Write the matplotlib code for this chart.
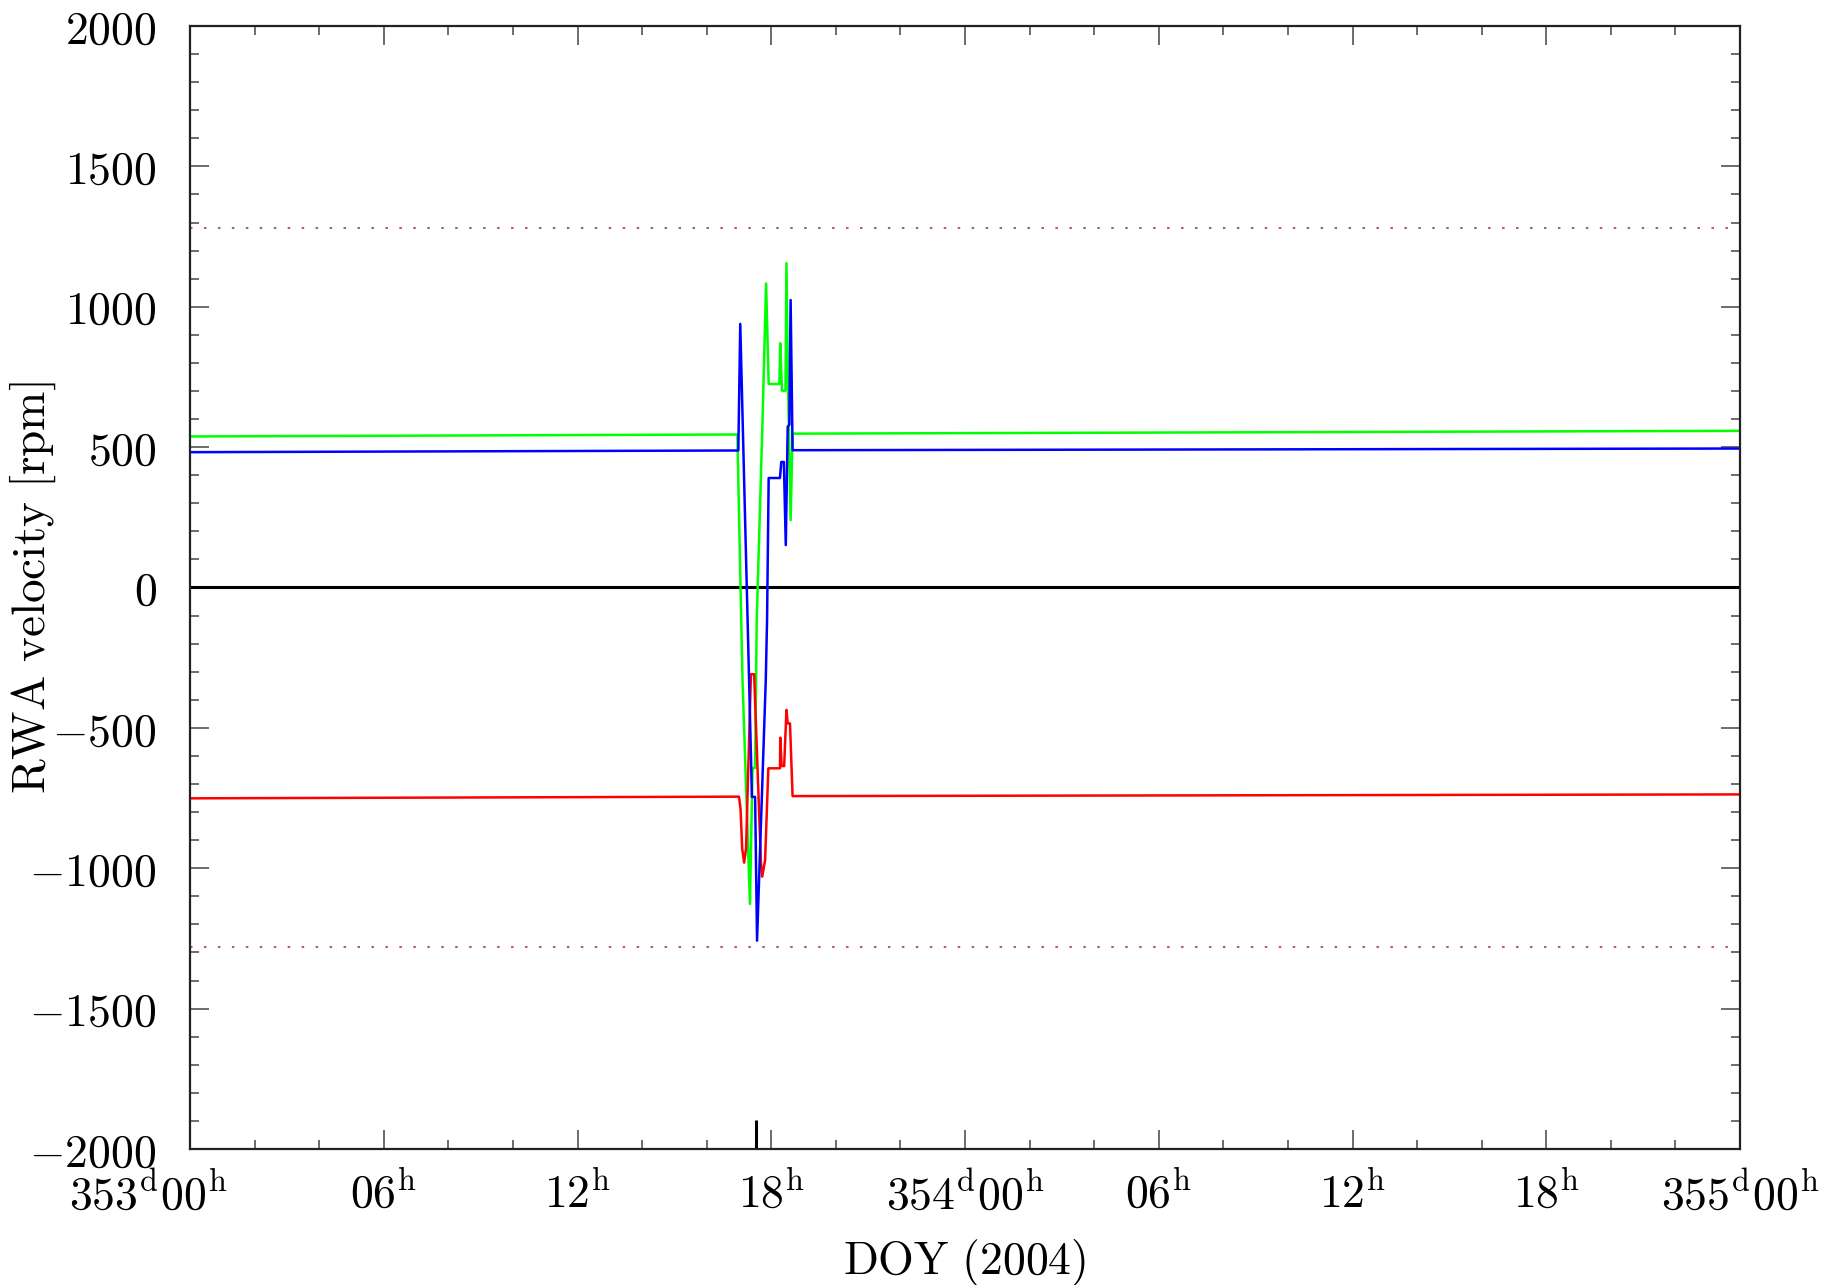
import numpy as np
import matplotlib
matplotlib.use("Agg")
import matplotlib.pyplot as plt
from matplotlib.ticker import FixedLocator, MultipleLocator, FixedFormatter
import matplotlib.transforms as mtransforms

plt.rcParams['mathtext.fontset'] = 'cm'

# --- data (hours since DOY 353 00h, 2004) ---
red_t = [0, 17.00, 17.05, 17.10, 17.16, 17.22, 17.37, 17.47, 17.68, 17.72, 17.81, 17.91,
         18.27, 18.28, 18.32, 18.40, 18.47, 18.51, 18.58, 18.66, 48]
red_v = [-751, -745, -790, -930, -980, -930, -309, -309, -980, -1030, -970, -644,
         -644, -535, -636, -636, -436, -484, -484, -743, -737]

green_t = [0, 16.95, 17.07, 17.11, 17.34, 17.42, 17.50, 17.55, 17.73, 17.84, 17.92,
           18.25, 18.28, 18.33, 18.44, 18.47, 18.52, 18.60, 18.66, 48]
green_v = [538, 545, -116, -330, -1127, -643, -643, -116, 595, 1083, 725,
           725, 870, 701, 701, 1155, 729, 240, 548, 558]

blue_t = [0, 16.98, 17.04, 17.38, 17.40, 17.50, 17.56, 17.83, 17.87, 17.92, 18.27,
          18.31, 18.39, 18.45, 18.51, 18.56, 18.60, 18.66, 48]
blue_v = [482, 488, 939, -640, -746, -746, -1258, -330, -116, 390, 390,
          447, 447, 151, 573, 580, 1024, 489, 495]

limit_v = [1280, -1280]
event_t = [17.53]

xtick_pos = [0, 6, 12, 18, 24, 30, 36, 42, 48]
xtick_lab = [r'$353^{\mathrm{d}}00^{\mathrm{h}}$', r'$06^{\mathrm{h}}$', r'$12^{\mathrm{h}}$',
             r'$18^{\mathrm{h}}$', r'$354^{\mathrm{d}}00^{\mathrm{h}}$', r'$06^{\mathrm{h}}$',
             r'$12^{\mathrm{h}}$', r'$18^{\mathrm{h}}$', r'$355^{\mathrm{d}}00^{\mathrm{h}}$']
ytick_pos = [-2000, -1500, -1000, -500, 0, 500, 1000, 1500, 2000]
ytick_lab = [r'$-2000$', r'$-1500$', r'$-1000$', r'$-500$', r'$0$',
             r'$500$', r'$1000$', r'$1500$', r'$2000$']

fig = plt.figure(figsize=(18.42, 12.85), dpi=100)
ax = fig.add_axes([0.10315, 0.10584, 0.84148, 0.87393])

for v in limit_v:
    ax.axhline(v, color='#b06070', lw=1.5, dashes=(1.2, 5.5))
ax.axhline(0, color='black', lw=2.2)

ax.plot(green_t, green_v, color='#00ff00', lw=1.8)
ax.plot(red_t, red_v, color='#ff0000', lw=1.8)
ax.plot(blue_t, blue_v, color='#0000ff', lw=1.8)

ax.vlines(event_t, -2000, -1897, color='black', lw=2.2)

ax.set_xlim(0, 48)
ax.set_ylim(-2000, 2000)

ax.xaxis.set_major_locator(FixedLocator(xtick_pos))
ax.xaxis.set_major_formatter(FixedFormatter(xtick_lab))
ax.xaxis.set_minor_locator(MultipleLocator(2))
ax.yaxis.set_major_locator(FixedLocator(ytick_pos))
ax.yaxis.set_major_formatter(FixedFormatter(ytick_lab))
ax.yaxis.set_minor_locator(MultipleLocator(100))

ax.tick_params(which='both', direction='in', top=True, right=True, color='#444444', width=1.1)
ax.tick_params(which='major', length=13.5)
ax.tick_params(which='minor', length=6.8)
ax.tick_params(axis='x', which='major', labelsize=33, pad=17)
ax.tick_params(axis='y', which='major', labelsize=33, pad=24)

for s in ax.spines.values():
    s.set_color('#222222')
    s.set_linewidth(1.6)

# first day label sits left of its tick
lab0 = ax.get_xticklabels()[0]
lab0.set_transform(lab0.get_transform() + mtransforms.ScaledTranslation(-0.42, 0, fig.dpi_scale_trans))

ax.set_xlabel(r'$\mathrm{DOY\ (2004)}$', fontsize=33)
ax.set_ylabel(r'$\mathrm{RWA\ velocity\ [rpm]}$', fontsize=34)
ax.xaxis.set_label_coords(0.5, -0.078)
ax.xaxis.label.set_va('top')
ax.yaxis.set_label_coords(-0.085, 0.5)

fig.savefig("out.png", dpi=100)
